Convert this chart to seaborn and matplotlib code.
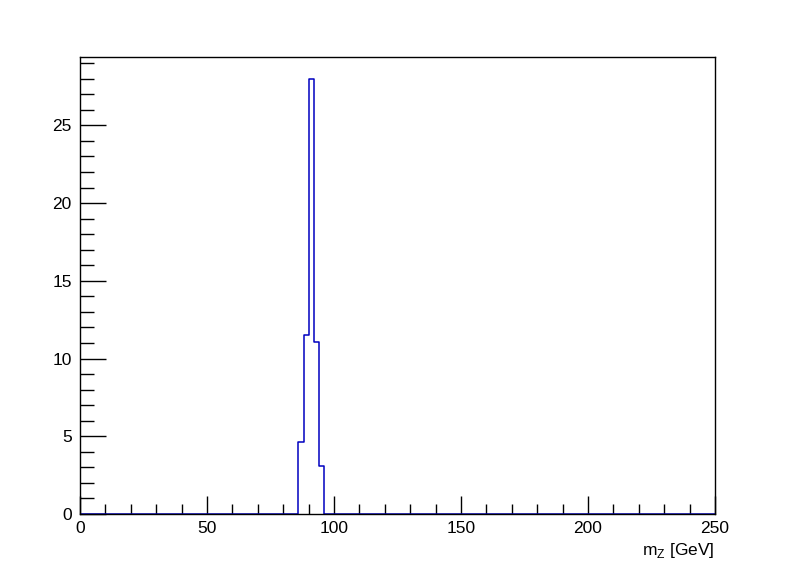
import numpy as np
import pandas as pd
import matplotlib
matplotlib.use("Agg")
import matplotlib.pyplot as plt
import seaborn as sns
from matplotlib.ticker import MultipleLocator

# Data (bin centers in GeV, bin contents)
bin_centers = [87, 89, 91, 93, 95]
bin_contents = [4.6, 11.5, 28.0, 11.05, 3.1]
x_min, x_max, bin_width = 0, 250, 2
x_ticks = [0, 50, 100, 150, 200, 250]
y_ticks = [0, 5, 10, 15, 20, 25]

df = pd.DataFrame({"mZ": bin_centers, "w": bin_contents})

sns.set_style("white")
plt.rcParams["font.family"] = ["Liberation Sans", "DejaVu Sans"]
plt.rcParams["mathtext.fontset"] = "custom"
plt.rcParams["mathtext.rm"] = "Liberation Sans"
plt.rcParams["text.color"] = "black"
plt.rcParams["axes.labelcolor"] = "black"
plt.rcParams["xtick.color"] = "black"
plt.rcParams["ytick.color"] = "black"

fig = plt.figure(figsize=(7.96, 5.72), dpi=100)
ax = fig.add_axes([80 / 796, 1 - 514 / 572, (715 - 80) / 796, (514 - 57) / 572])

sns.histplot(data=df, x="mZ", weights="w", binwidth=bin_width,
             binrange=(x_min, x_max), element="step",
             fill=False, color="#0000c0", linewidth=1.1, ax=ax)

ax.set_xlim(x_min, x_max)
ax.set_ylim(0, max(bin_contents) * 1.05)
ax.set_xticks(x_ticks)
ax.set_yticks(y_ticks)
ax.xaxis.set_minor_locator(MultipleLocator(10))
ax.yaxis.set_minor_locator(MultipleLocator(1))
ax.tick_params(axis="both", which="both", direction="in", top=False, right=False,
               bottom=True, left=True,
               labelsize=12.5, color="black", labelcolor="black", width=1)
ax.tick_params(axis="x", which="major", length=13, pad=5)
ax.tick_params(axis="x", which="minor", length=7)
ax.tick_params(axis="y", which="major", length=19, pad=6)
ax.tick_params(axis="y", which="minor", length=10)
for s in ax.spines.values():
    s.set_color("black")
    s.set_linewidth(1)
    s.set_zorder(5)
ax.set_ylabel("")
ax.set_xlabel(r"m$_\mathregular{Z}$ [GeV]", fontsize=12.5, color="black")
ax.xaxis.set_label_coords(1.0, -0.058)
ax.xaxis.label.set_horizontalalignment("right")

fig.savefig("out.png", dpi=100)
